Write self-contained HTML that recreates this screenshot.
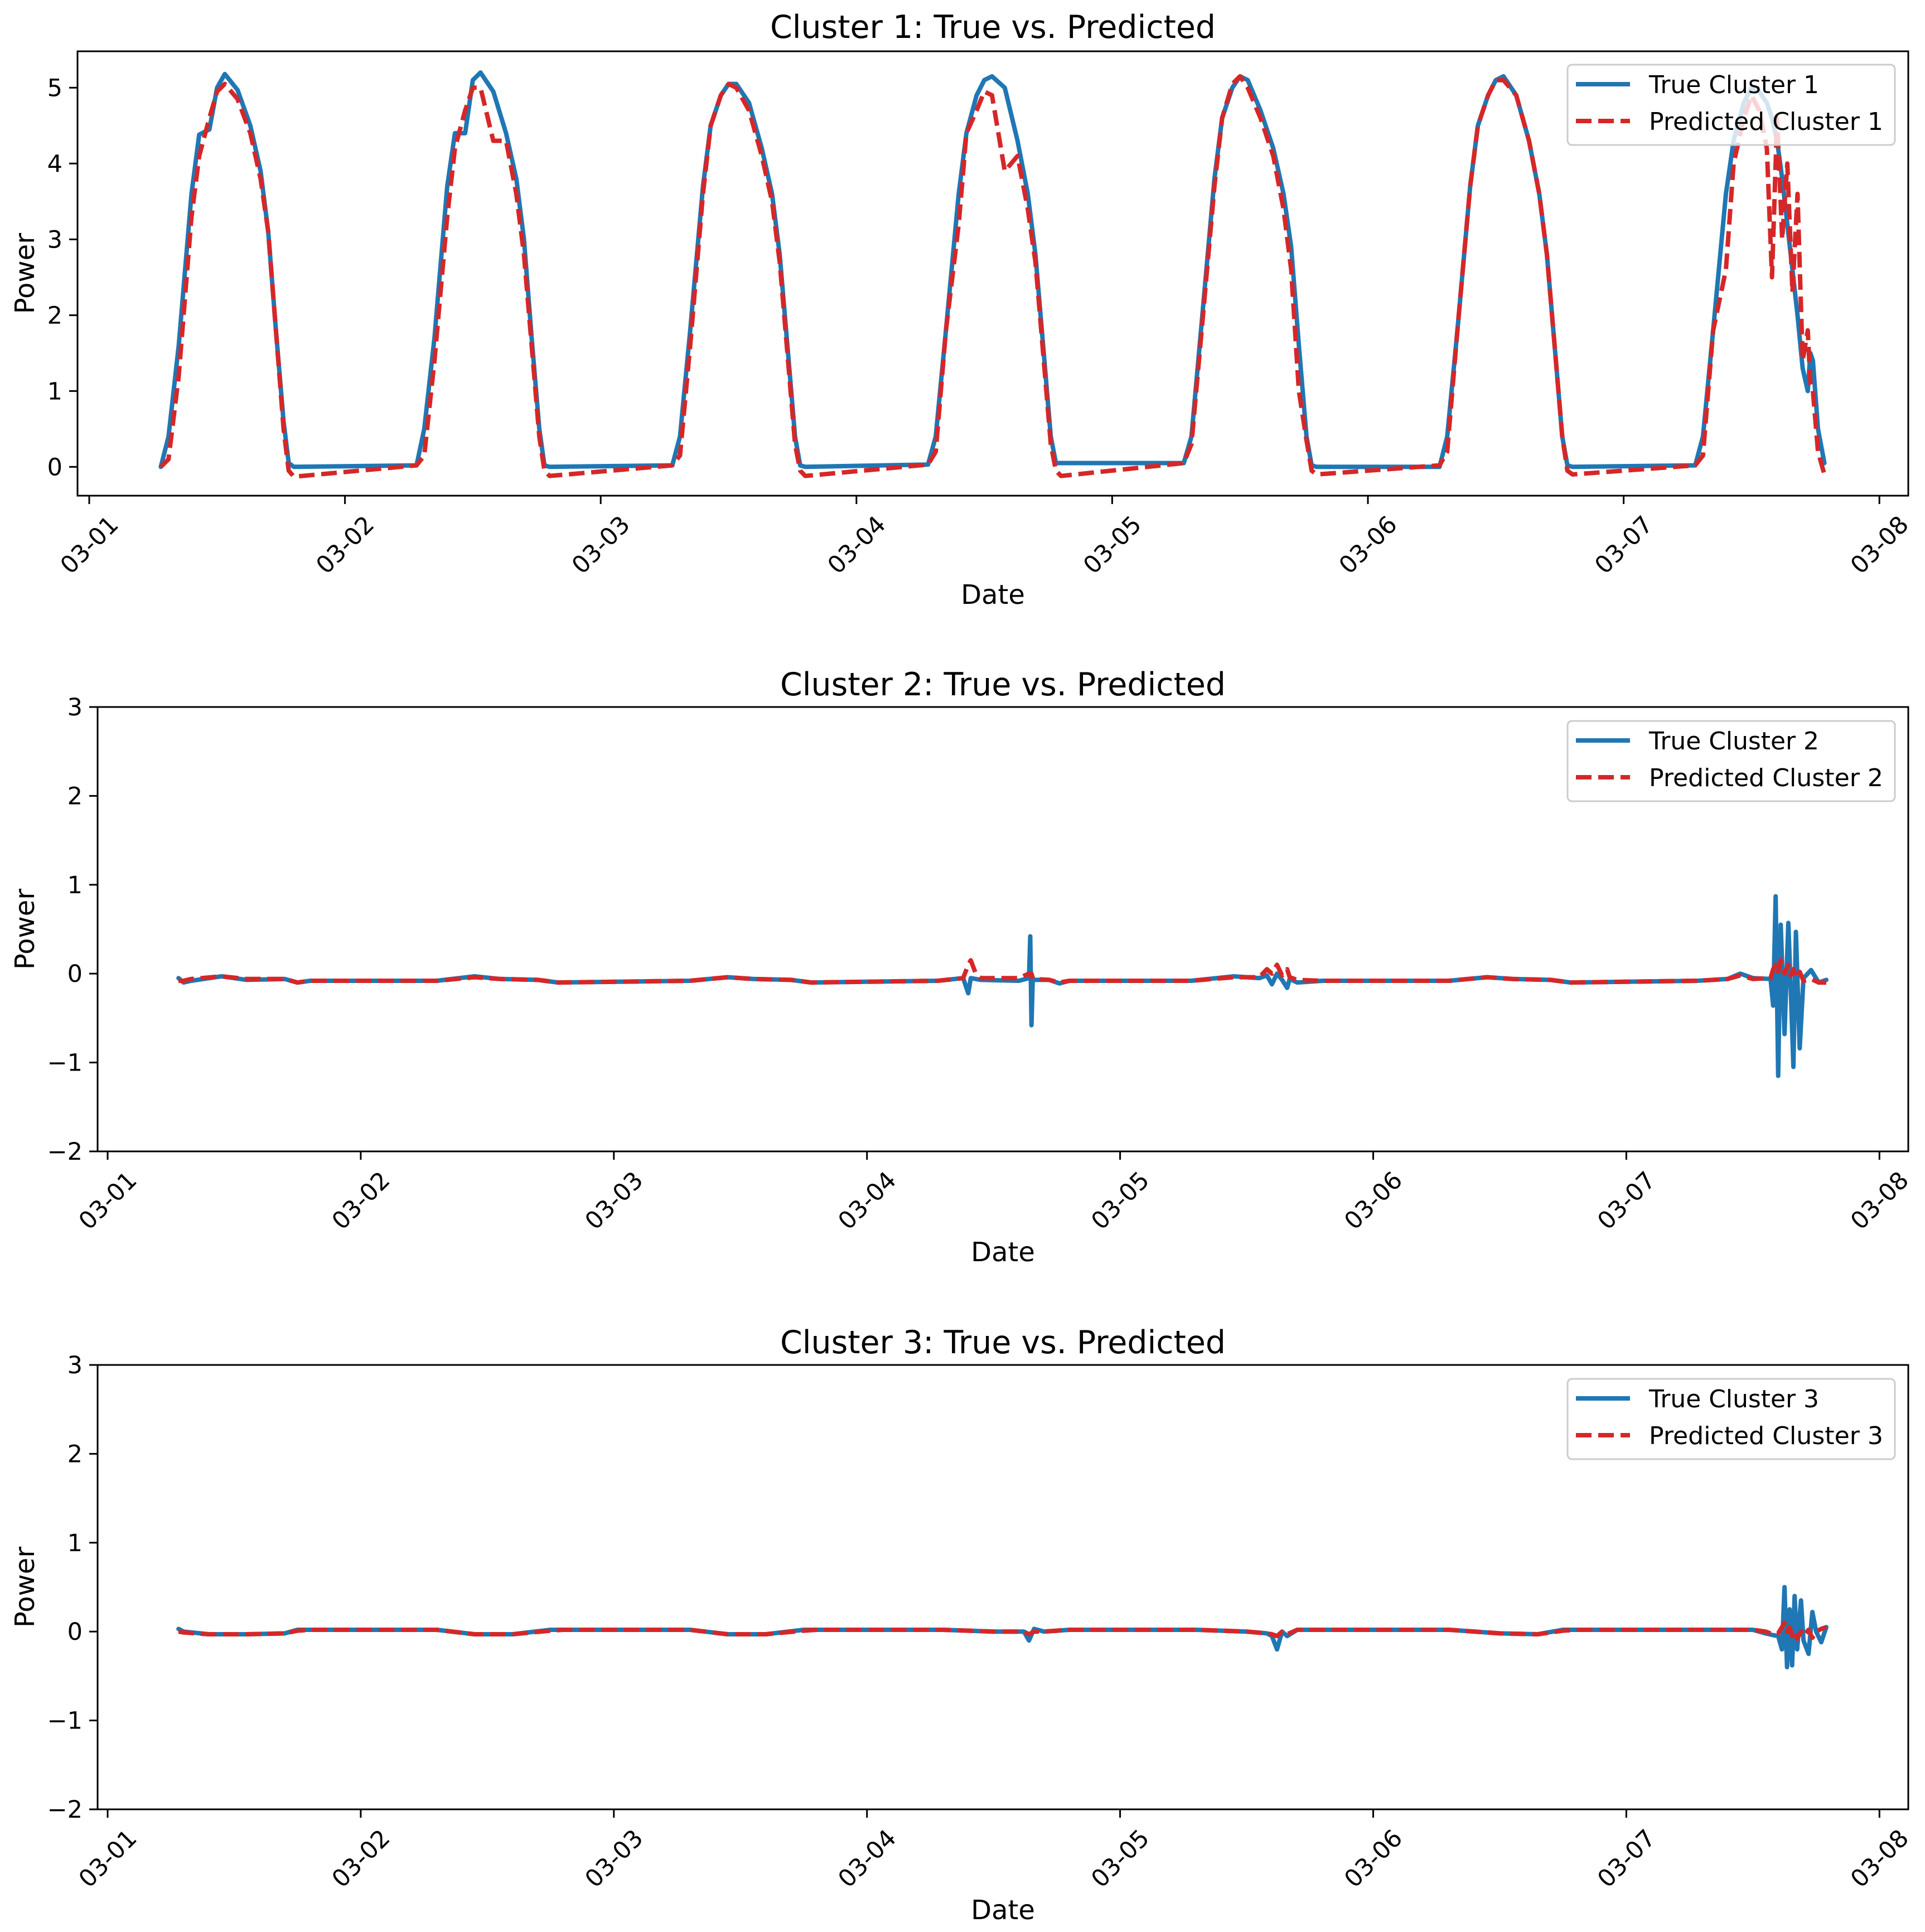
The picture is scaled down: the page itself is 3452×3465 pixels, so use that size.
<!DOCTYPE html>
<html><head><meta charset="utf-8"><style>
html,body{margin:0;padding:0;background:#fff;}
svg{display:block;font-family:"DejaVu Sans","Liberation Sans",sans-serif;}
</style></head><body>
<svg id="chart" width="3452" height="3465" viewBox="0 0 3452 3465" xmlns="http://www.w3.org/2000/svg"></svg>
<script>
// ---------- DATA (x in days since 03-01) ----------
const dateTicks = ["03-01","03-02","03-03","03-04","03-05","03-06","03-07","03-08"];
const c1YTicks = [0,1,2,3,4,5];
const c23YTicks = [-2,-1,0,1,2,3];

const c1Time = [
0.28,0.31,0.35,0.40,0.43,0.47,0.50,0.53,0.58,0.63,0.67,0.70,0.73,0.76,0.78,0.80,
1.28,1.31,1.35,1.40,1.43,1.47,1.50,1.53,1.58,1.63,1.67,1.70,1.73,1.76,1.78,1.80,
2.28,2.31,2.35,2.40,2.43,2.47,2.50,2.53,2.58,2.63,2.67,2.70,2.73,2.76,2.78,2.80,
3.28,3.31,3.35,3.40,3.43,3.47,3.50,3.53,3.58,3.63,3.67,3.70,3.73,3.76,3.78,3.80,
4.28,4.31,4.35,4.40,4.43,4.47,4.50,4.53,4.58,4.63,4.67,4.70,4.73,4.76,4.78,4.80,
5.28,5.31,5.35,5.40,5.43,5.47,5.50,5.53,5.58,5.63,5.67,5.70,5.73,5.76,5.78,5.80,
6.28,6.31,6.35,6.40,6.43,6.47,6.50,6.53,6.56,6.58,6.60,6.62,6.64,6.66,6.68,6.70,6.72,6.73,6.74,6.76,6.785];
const c1True = [
0,0.4,1.6,3.6,4.38,4.45,5.0,5.18,4.97,4.5,3.9,3.1,1.8,0.6,0.05,0,
0.02,0.5,1.7,3.7,4.4,4.4,5.1,5.2,4.95,4.4,3.8,3.0,1.7,0.5,0.02,0,
0.02,0.4,1.8,3.7,4.5,4.9,5.05,5.05,4.8,4.2,3.6,2.8,1.6,0.4,0.02,0,
0.03,0.4,1.8,3.6,4.4,4.9,5.1,5.15,5.0,4.3,3.6,2.8,1.6,0.4,0.05,0.05,
0.05,0.4,1.9,3.8,4.6,5.0,5.15,5.1,4.7,4.2,3.6,2.9,1.6,0.4,0.02,0,
0,0.4,1.8,3.7,4.5,4.9,5.1,5.15,4.9,4.3,3.6,2.8,1.6,0.4,0.02,0,
0.02,0.4,1.8,3.6,4.3,4.8,5.0,4.95,4.8,4.6,4.3,3.8,3.2,2.6,2.0,1.3,1.0,1.5,1.4,0.5,0.05];
const c1Pred = [
0,0.1,1.2,3.3,4.1,4.6,4.95,5.05,4.85,4.4,3.8,3.1,1.8,0.5,-0.05,-0.13,
0.02,0.15,1.4,3.3,4.2,4.7,5.0,5.0,4.3,4.3,3.6,2.8,1.6,0.4,-0.05,-0.12,
0.02,0.15,1.6,3.6,4.5,4.9,5.05,5.0,4.7,4.1,3.5,2.7,1.5,0.3,-0.05,-0.12,
0.03,0.2,1.8,3.2,4.4,4.7,4.95,4.9,3.9,4.1,3.4,2.7,1.5,0.3,-0.05,-0.12,
0.05,0.3,1.8,3.7,4.6,5.05,5.15,5.0,4.6,4.1,3.4,2.6,1.0,0.35,-0.05,-0.1,
0.02,0.2,1.8,3.7,4.5,4.9,5.1,5.1,4.9,4.3,3.6,2.8,1.6,0.4,-0.05,-0.1,
0.02,0.15,1.8,2.6,4.0,4.6,4.9,4.7,4.2,2.5,4.6,3.0,4.0,2.3,3.6,1.4,1.8,1.1,1.0,0.2,-0.1];

const c2Time = [
0.28,0.30,0.33,0.45,0.55,0.70,0.75,0.80,
1.30,1.45,1.55,1.70,1.78,
2.30,2.45,2.55,2.70,2.78,
3.28,3.38,3.40,3.41,3.43,3.45,3.60,3.64,3.645,3.65,3.655,3.66,3.72,3.76,3.80,
4.28,4.45,4.55,4.58,4.60,4.62,4.64,4.66,4.67,4.70,4.80,
5.30,5.45,5.55,5.70,5.78,
6.28,6.40,6.45,6.50,6.57,6.58,6.59,6.60,6.61,6.625,6.64,6.65,6.66,6.67,6.685,6.70,6.73,6.76,6.79];
const c2True = [
-0.05,-0.1,-0.08,-0.03,-0.07,-0.06,-0.1,-0.08,
-0.08,-0.03,-0.06,-0.07,-0.1,
-0.08,-0.04,-0.06,-0.07,-0.1,
-0.08,-0.05,-0.22,-0.05,-0.06,-0.07,-0.08,-0.05,0.42,-0.58,-0.05,-0.07,-0.07,-0.11,-0.08,
-0.08,-0.03,-0.05,-0.02,-0.12,0.0,-0.07,-0.16,-0.06,-0.1,-0.08,
-0.08,-0.04,-0.06,-0.07,-0.1,
-0.08,-0.06,0.0,-0.05,-0.06,-0.36,0.87,-1.15,0.55,-0.68,0.57,-0.2,-1.05,0.47,-0.84,-0.05,0.04,-0.1,-0.07];
const c2Pred = [
-0.08,-0.08,-0.06,-0.03,-0.06,-0.06,-0.1,-0.08,
-0.08,-0.04,-0.06,-0.07,-0.1,
-0.08,-0.04,-0.06,-0.07,-0.1,
-0.08,-0.05,0.1,0.15,0.0,-0.05,-0.05,0.0,-0.02,0.0,-0.05,-0.06,-0.07,-0.1,-0.08,
-0.08,-0.04,-0.04,0.05,0.0,0.1,-0.02,0.05,-0.04,-0.07,-0.08,
-0.08,-0.04,-0.06,-0.07,-0.1,
-0.08,-0.06,-0.02,-0.06,-0.05,0.05,0.1,0.02,0.15,0.0,0.1,-0.02,0.05,-0.05,0.02,-0.08,-0.06,-0.1,-0.1];

const c3Time = [
0.28,0.30,0.40,0.55,0.70,0.75,0.80,
1.30,1.45,1.60,1.75,1.80,
2.30,2.45,2.60,2.75,2.80,
3.30,3.50,3.62,3.64,3.66,3.70,3.80,
4.30,4.50,4.58,4.60,4.62,4.64,4.66,4.70,4.80,
5.30,5.50,5.65,5.75,5.80,
6.30,6.50,6.55,6.58,6.60,6.615,6.625,6.635,6.645,6.655,6.665,6.675,6.69,6.70,6.72,6.735,6.75,6.77,6.79];
const c3True = [
0.03,0.0,-0.03,-0.03,-0.02,0.02,0.02,
0.02,-0.03,-0.03,0.02,0.02,
0.02,-0.03,-0.03,0.02,0.02,
0.02,0.0,0.0,-0.1,0.03,0.0,0.02,
0.02,0.0,-0.02,-0.05,-0.2,0.0,-0.05,0.02,0.02,
0.02,-0.02,-0.03,0.02,0.02,
0.02,0.02,-0.02,-0.04,-0.05,-0.2,0.5,-0.4,0.25,-0.38,0.4,-0.2,0.35,-0.1,-0.25,0.22,0.0,-0.12,0.05];
const c3Pred = [
0.0,-0.01,-0.03,-0.03,-0.02,0.01,0.02,
0.02,-0.03,-0.03,0.01,0.02,
0.02,-0.03,-0.03,0.01,0.02,
0.02,0.0,0.0,-0.03,0.0,0.0,0.02,
0.02,0.0,-0.02,-0.03,-0.05,0.0,-0.03,0.02,0.02,
0.02,-0.02,-0.03,0.01,0.02,
0.02,0.02,0.0,-0.03,-0.02,0.05,0.1,0.0,0.05,-0.05,0.0,-0.08,0.0,-0.05,0.02,-0.07,0.0,0.03,0.05];

// ---------- LAYOUT ----------
const panels = [
 {n:1,left:139,right:3422,top:92,bottom:889,x0:160,dayW:458.6,ymin:-0.38,ymax:5.48,yt:c1YTicks,t:c1Time,tr:c1True,pr:c1Pred,title:68,date:1083,lt:116},
 {n:2,left:175,right:3422,top:1268,bottom:2065,x0:193,dayW:453.9,ymin:-2,ymax:3,yt:c23YTicks,t:c2Time,tr:c2True,pr:c2Pred,title:1247,date:2262,lt:1293},
 {n:3,left:175,right:3422,top:2448,bottom:3245,x0:193,dayW:453.9,ymin:-2,ymax:3,yt:c23YTicks,t:c3Time,tr:c3True,pr:c3Pred,title:2427,date:3442,lt:2473}
];
const NS="http://www.w3.org/2000/svg";
const svg=document.getElementById('chart');
function mk(tag,attrs,parent,text){const e=document.createElementNS(NS,tag);for(const k in attrs)e.setAttribute(k,attrs[k]);if(text!==undefined)e.textContent=text;(parent||svg).appendChild(e);return e;}

panels.forEach(p=>{
  const g=mk('g',{});
  
  
  const X=d=>p.x0+d*p.dayW;
  const Y=v=>p.bottom-(v-p.ymin)/(p.ymax-p.ymin)*(p.bottom-p.top);
  const cx=(p.left+p.right)/2;
  const tt=mk('text',{x:cx,y:p.title,'text-anchor':'middle','font-size':57,fill:'#000',textLength:799,lengthAdjust:'spacingAndGlyphs'},g,'Cluster '+p.n+': True vs. Predicted');
  
  
  const cp=mk('clipPath',{id:'clip'+p.n},g);
  mk('rect',{x:p.left,y:p.top,width:p.right-p.left,height:p.bottom-p.top},cp);
  dateTicks.forEach((lab,i)=>{
    const x=X(i);
    const tk=mk('line',{x1:x,y1:p.bottom,x2:x,y2:p.bottom+15,stroke:'#000','stroke-width':3},g);
    
    
    const cy=p.bottom+88;
    const tl=mk('text',{x:x,y:cy+15,'text-anchor':'middle','font-size':43,fill:'#000',transform:`rotate(-45 ${x} ${cy})`},g,lab);
    
    
  });
  p.yt.forEach(v=>{
    const y=Y(v);
    const tk=mk('line',{x1:p.left-15,y1:y,x2:p.left,y2:y,stroke:'#000','stroke-width':3},g);
    
    
    const tl=mk('text',{x:p.left-27,y:y+15,'text-anchor':'end','font-size':43,fill:'#000'},g,v<0?'\u2212'+Math.abs(v):String(v));
    
    
  });
  const xl=mk('text',{x:cx,y:p.date,'text-anchor':'middle','font-size':48,fill:'#000'},g,'Date');
  
  
  const ycy=(p.top+p.bottom)/2;
  const yl=mk('text',{x:44,y:ycy,'text-anchor':'middle','font-size':48,fill:'#000',transform:`rotate(-90 44 ${ycy}) translate(0 17)`},g,'Power');
  
  
  const path=(vals)=>p.t.map((d,i)=>(i?'L':'M')+X(d).toFixed(1)+' '+Y(vals[i]).toFixed(1)).join(' ');
  const pl=mk('g',{'clip-path':`url(#clip${p.n})`},g);
  const tl=mk('path',{d:path(p.tr),fill:'none',stroke:'#1f77b4','stroke-width':8,'stroke-linejoin':'round','stroke-linecap':'round'},pl);
  
  
  const rl=mk('path',{d:path(p.pr),fill:'none',stroke:'#d62728','stroke-width':8,'stroke-dasharray':'28 12','stroke-linejoin':'round'},pl);
  
  
  const fr=mk('rect',{x:p.left,y:p.top,width:p.right-p.left,height:p.bottom-p.top,fill:'none',stroke:'#000','stroke-width':3},g);
  
  
  const lg=mk('g',{},g);
  
  
  mk('rect',{x:2811,y:p.lt,width:587,height:144,rx:8,fill:'#fff','fill-opacity':0.8,stroke:'#ccc','stroke-width':3},lg);
  const r1=p.lt+35, r2=p.lt+101;
  const e1=mk('g',{},lg);
  
  
  mk('line',{x1:2826,y1:r1,x2:2923,y2:r1,stroke:'#1f77b4','stroke-width':8},e1);
  mk('text',{x:2957,y:r1+16,'font-size':44,fill:'#000',textLength:305,lengthAdjust:'spacingAndGlyphs'},e1,'True Cluster '+p.n);
  const e2=mk('g',{},lg);
  
  
  mk('line',{x1:2826,y1:r2,x2:2923,y2:r2,stroke:'#d62728','stroke-width':8,'stroke-dasharray':'28 12'},e2);
  mk('text',{x:2957,y:r2+16,'font-size':44,fill:'#000',textLength:420,lengthAdjust:'spacingAndGlyphs'},e2,'Predicted Cluster '+p.n);
});
</script>
</body></html>
